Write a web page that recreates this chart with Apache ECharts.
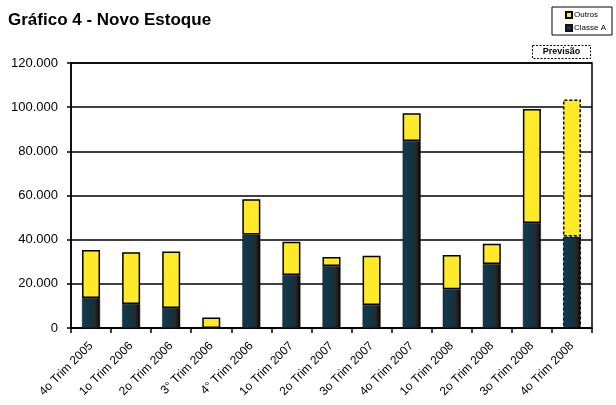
<!DOCTYPE html>
<html>
<head>
<meta charset="utf-8">
<script src="https://cdn.jsdelivr.net/npm/echarts@6/dist/echarts.min.js"></script>
<style>
  html, body { margin: 0; padding: 0; background: #fff; }
  #chart { width: 616px; height: 405px; }
</style>
</head>
<body>
<div id="chart"></div>
<script>
// Quarterly new inventory, split into Classe A and Outros (stacked)
const categories = [
  '4o Trim 2005', '1o Trim 2006', '2o Trim 2006', '3° Trim 2006', '4° Trim 2006',
  '1o Trim 2007', '2o Trim 2007', '3o Trim 2007', '4o Trim 2007',
  '1o Trim 2008', '2o Trim 2008', '3o Trim 2008', '4o Trim 2008'
];
const classeA = [13600, 10900, 9100, 0, 42300, 24000, 28100, 10400, 84700, 17500, 29000, 47500, 41400];
const outros  = [21700, 23400, 25500, 4800, 16000, 15100, 4100, 22300, 12500, 15600, 9200, 51700, 62100];
const yTicks = [0, 20000, 40000, 60000, 80000, 100000, 120000];

// last quarter is a forecast: drawn with a dashed outline
const forecastIndex = categories.length - 1;

const darkFill = new echarts.graphic.LinearGradient(0, 0, 1, 0, [
  { offset: 0, color: '#0f3b52' },
  { offset: 0.55, color: '#15323f' },
  { offset: 0.72, color: '#2a2a2c' },
  { offset: 0.86, color: '#1a1a1a' },
  { offset: 1, color: '#000000' }
]);

function withForecast(values, width) {
  return values.map((v, i) => i === forecastIndex
    ? { value: v, itemStyle: { borderType: [3, 2], borderWidth: width, borderColor: '#000' } }
    : v);
}

function fmt(v) {
  return String(v).replace(/\B(?=(\d{3})+(?!\d))/g, '.');
}

const chart = echarts.init(document.getElementById('chart'), null, { renderer: 'canvas' });
chart.setOption({
  animation: false,
  textStyle: { fontFamily: 'Liberation Sans, Arial, sans-serif', color: '#000' },
  title: {
    text: 'Gráfico 4 - Novo Estoque',
    left: 3, top: 7,
    textStyle: { fontSize: 17, fontWeight: 'bold', color: '#000', fontFamily: 'Liberation Sans, Arial, sans-serif' }
  },
  legend: {
    orient: 'vertical',
    right: 4, top: 7,
    data: ['Outros', 'Classe A'],
    itemWidth: 6, itemHeight: 6, itemGap: 5,
    padding: [4, 6, 3, 13],
    borderColor: '#000', borderWidth: 1,
    textStyle: { fontSize: 8, color: '#000', padding: [0, 0, 0, -3] },
    icon: 'rect'
  },
  grid: {
    left: 71, right: 24, top: 63, bottom: 77,
    show: true, borderColor: '#000', borderWidth: 1.5
  },
  xAxis: {
    type: 'category',
    data: categories,
    boundaryGap: true,
    axisLine: { lineStyle: { color: '#000', width: 1.5 } },
    axisTick: { show: true, length: 5, lineStyle: { color: '#000', width: 1.5 } },
    axisLabel: { rotate: 45, fontSize: 12, color: '#000', margin: 16, interval: 0 }
  },
  yAxis: {
    type: 'value',
    min: yTicks[0], max: yTicks[yTicks.length - 1], interval: 20000,
    axisLine: { show: true, lineStyle: { color: '#000', width: 1.5 } },
    axisTick: { show: true, length: 4, lineStyle: { color: '#000', width: 1.5 } },
    splitLine: { lineStyle: { color: '#000', width: 1.5 } },
    axisLabel: { fontSize: 13, color: '#000', margin: 13, formatter: fmt }
  },
  series: [
    {
      name: 'Classe A',
      type: 'bar',
      stack: 'total',
      barWidth: 18,
      data: withForecast(classeA, 1),
      itemStyle: { color: darkFill, borderColor: '#111', borderWidth: 0.5 }
    },
    {
      name: 'Outros',
      type: 'bar',
      stack: 'total',
      barWidth: 18,
      data: withForecast(outros, 1.5),
      itemStyle: { color: '#ffea2a', borderColor: '#000', borderWidth: 1.5 }
    }
  ],
  graphic: [
    {
      type: 'group',
      left: 532, top: 45,
      children: [
        {
          type: 'rect',
          shape: { x: 0, y: 0, width: 58, height: 13 },
          style: { fill: '#fff', stroke: '#000', lineWidth: 1, lineDash: [2, 1.5] }
        },
        {
          type: 'text',
          style: {
            x: 29, y: 6.5, text: 'Previsão',
            font: 'bold 9px Liberation Sans, Arial, sans-serif',
            fill: '#000', align: 'center', verticalAlign: 'middle'
          }
        }
      ]
    }
  ]
});
</script>
</body>
</html>
